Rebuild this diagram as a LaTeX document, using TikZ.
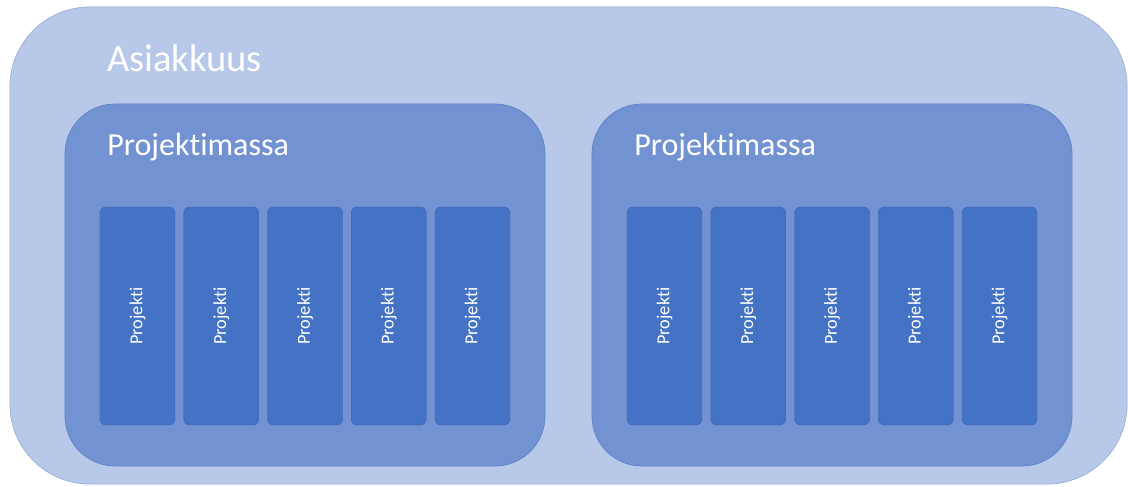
\documentclass[tikz,border=0pt]{standalone}
\usepackage{fontspec}
\setmainfont{Carlito}[Ligatures=NoCommon]
\usepackage{tikz}
\usetikzlibrary{positioning}

\definecolor{asiakasfill}{HTML}{B7C8E8}
\definecolor{asiakasline}{HTML}{8FA8D8}
\definecolor{massafill}{HTML}{7292D2}
\definecolor{massaline}{HTML}{5A7DC4}
\definecolor{projfill}{HTML}{4472C4}
\definecolor{projline}{HTML}{3D66B3}

\begin{document}
\begin{tikzpicture}[x=0.025cm, y=-0.025cm,
    outerbox/.style={rectangle, rounded corners=2cm, fill=asiakasfill, draw=asiakasline, line width=0.4pt,
        minimum width=27.925cm, minimum height=11.925cm, inner sep=0pt},
    massbox/.style={rectangle, rounded corners=1.25cm, fill=massafill, draw=massaline, line width=0.4pt,
        minimum width=12cm, minimum height=9.05cm, inner sep=0pt},
    projbox/.style={rectangle, rounded corners=0.15cm, fill=projfill, draw=projline, line width=0.3pt,
        minimum width=1.875cm, minimum height=5.45cm, inner sep=0pt},
    title/.style={anchor=base west, text=white, inner sep=0pt},
    projlabel/.style={rotate=90, text=white, font=\fontsize{13}{15}\selectfont}
]
\useasboundingbox (0,0) rectangle (1128,486);

\node[outerbox] (asiakkuus) at (568.5,245.5) {};
\node[title, font=\fontsize{27.4}{32}\selectfont] (asiakkuusTxt) at (107,71) {Asiakkuus};

% two project masses, five projects each
\foreach \m/\cx in {1/305, 2/832} {
    \node[massbox] (massa\m) at (\cx,285) {};
    \node[title, font=\fontsize{22.8}{27}\selectfont] (massaTxt\m) at (\cx-198,155) {Projektimassa};
    \foreach \p in {0,...,4} {
        \node[projbox] (proj\m\p) at (\cx-167.5+83.75*\p,316) {};
        \node[projlabel] at (proj\m\p.center) {Projekti};
    }
}
\end{tikzpicture}
\end{document}
